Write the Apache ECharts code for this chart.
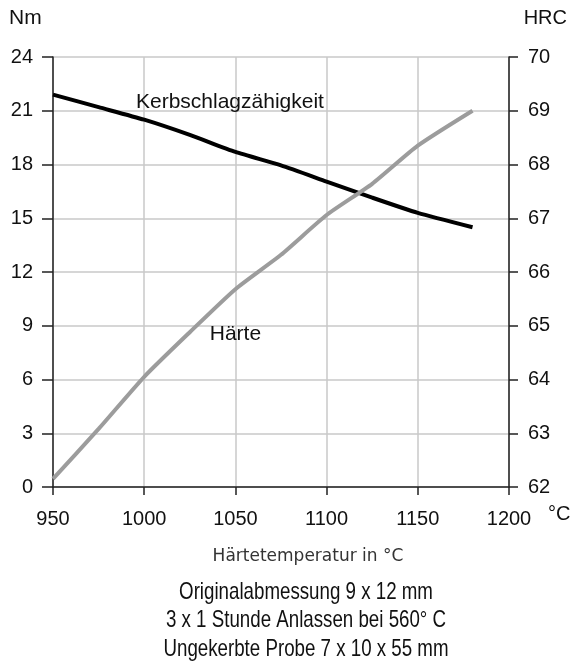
<!DOCTYPE html>
<html>
<head>
<meta charset="utf-8">
<script src="https://cdn.jsdelivr.net/npm/echarts@6/dist/echarts.min.js"></script>
<style>html,body{margin:0;padding:0;background:#fff}#c{width:574px;height:669px}</style>
</head>
<body>
<div id="c"></div>
<script>
const temps = [950, 975, 1000, 1025, 1050, 1075, 1100, 1125, 1150, 1180];
const kerbValues = [21.9, 21.2, 20.5, 19.65, 18.7, 17.95, 17.05, 16.15, 15.3, 14.5];
const haerteValues = [62.15, 63.08, 64.05, 64.88, 65.68, 66.32, 67.06, 67.64, 68.35, 69.0];
const xTicks = [950, 1000, 1050, 1100, 1150, 1200];
const kerbName = 'Kerbschlagzähigkeit';
const haerteName = 'Härte';
const xAxisName = 'Härtetemperatur in °C';
const notes = ['Originalabmessung 9 x 12 mm', '3 x 1 Stunde Anlassen bei 560° C', 'Ungekerbte Probe 7 x 10 x 55 mm'];

const chart = echarts.init(document.getElementById('c'));
const FONT = 'Liberation Sans, Arial, sans-serif';
const tickFont = {fontFamily: FONT, fontSize: 20, color: '#111'};
const axisLineStyle = {color: '#222', width: 1.5};
const noteGraphics = notes.map((t, i) => ({
  type: 'text', x: 306, y: 592 + i * 28.5, scaleX: 0.78,
  style: {text: t, font: '24px ' + FONT, fill: '#111', textAlign: 'center', textVerticalAlign: 'middle'}
}));
chart.setOption({
  animation: false,
  backgroundColor: '#fff',
  grid: {left: 53, right: 65, top: 57, bottom: 182},
  xAxis: {
    type: 'value', min: 950, max: 1200, interval: 50,
    axisLine: {show: true, onZero: false, lineStyle: axisLineStyle},
    axisTick: {show: true, inside: false, length: 8, lineStyle: axisLineStyle},
    axisLabel: Object.assign({margin: 22, formatter: v => xTicks.includes(v) ? String(v) : ''}, tickFont),
    splitLine: {show: true, lineStyle: {color: '#c8c8c8', width: 1.5}}
  },
  yAxis: [
    {
      type: 'value', min: 0, max: 24, interval: 3, position: 'left',
      axisLine: {show: true, onZero: false, lineStyle: axisLineStyle},
      axisTick: {show: true, length: 11, lineStyle: axisLineStyle},
      axisLabel: Object.assign({margin: 20}, tickFont),
      splitLine: {show: true, lineStyle: {color: '#c8c8c8', width: 1.5}}
    },
    {
      type: 'value', min: 62, max: 70, interval: 1, position: 'right',
      axisLine: {show: true, onZero: false, lineStyle: axisLineStyle},
      axisTick: {show: true, length: 9, lineStyle: axisLineStyle},
      axisLabel: Object.assign({margin: 19}, tickFont),
      splitLine: {show: false}
    }
  ],
  graphic: [
    {type: 'text', left: 9, top: 8, style: {text: 'Nm', font: '21px ' + FONT, fill: '#111'}},
    {type: 'text', right: 7, top: 8, style: {text: 'HRC', font: '20px ' + FONT, fill: '#111'}},
    {type: 'text', left: 548, top: 504, style: {text: '°C', font: '20px ' + FONT, fill: '#111'}},
    {type: 'text', x: 308, y: 557, style: {text: xAxisName, font: '17px DejaVu Sans, sans-serif', fill: '#333', textAlign: 'center', textVerticalAlign: 'middle'}}
  ].concat(noteGraphics),
  series: [
    {
      name: kerbName, type: 'line', yAxisIndex: 0, symbol: 'none', smooth: 0.2,
      data: temps.map((t, i) => [t, kerbValues[i]]),
      lineStyle: {color: '#000', width: 4},
      markPoint: {
        symbol: 'rect', symbolSize: 0,
        label: {show: true, formatter: kerbName, fontFamily: FONT, fontSize: 21, color: '#111', position: 'inside'},
        data: [{coord: [1047, 21.5]}]
      }
    },
    {
      name: haerteName, type: 'line', yAxisIndex: 1, symbol: 'none', smooth: 0.2,
      data: temps.map((t, i) => [t, haerteValues[i]]),
      lineStyle: {color: '#9c9c9c', width: 4},
      markPoint: {
        symbol: 'rect', symbolSize: 0,
        label: {show: true, formatter: haerteName, fontFamily: FONT, fontSize: 21, color: '#111', position: 'inside'},
        data: [{coord: [1050, 64.85]}]
      }
    }
  ]
});
</script>
</body>
</html>
